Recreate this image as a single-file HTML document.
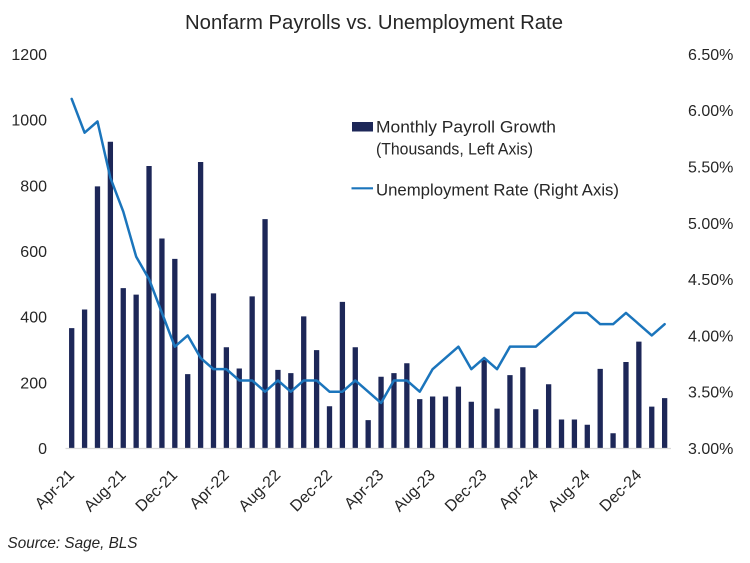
<!DOCTYPE html>
<html>
<head>
<meta charset="utf-8">
<style>
html,body{margin:0;padding:0;background:#fff}
svg{display:block}
text{font-family:"Liberation Sans",sans-serif;fill:#262626}
</style>
</head>
<body>
<svg width="750" height="563" viewBox="0 0 750 563" xmlns="http://www.w3.org/2000/svg">
<rect width="750" height="563" fill="#fff"/>
<text x="185" y="29" font-size="20" textLength="378" lengthAdjust="spacingAndGlyphs" fill="#1a1a1a">Nonfarm Payrolls vs. Unemployment Rate</text>
<g font-size="16" text-anchor="end">
<text x="47" y="454">0</text><text x="47" y="388.3">200</text><text x="47" y="322.7">400</text><text x="47" y="257">600</text><text x="47" y="191.4">800</text><text x="47" y="125.7">1000</text><text x="47" y="60">1200</text>
</g>
<g font-size="16">
<text x="688" y="454">3.00%</text><text x="688" y="397.7">3.50%</text><text x="688" y="341.4">4.00%</text><text x="688" y="285.1">4.50%</text><text x="688" y="228.8">5.00%</text><text x="688" y="172.5">5.50%</text><text x="688" y="116.2">6.00%</text><text x="688" y="60">6.50%</text>
</g>
<path fill="#1d2758" d="M69.05 448v-119.83h5.3v119.83zM81.94 448v-138.54h5.3v138.54zM94.83 448v-261.66h5.3v261.66zM107.72 448v-306.3h5.3v306.3zM120.61 448v-159.88h5.3v159.88zM133.5 448v-153.32h5.3v153.32zM146.39 448v-282.01h5.3v282.01zM159.28 448v-209.46h5.3v209.46zM172.17 448v-189.1h5.3v189.1zM185.06 448v-73.87h5.3v73.87zM197.95 448v-285.95h5.3v285.95zM210.84 448v-154.63h5.3v154.63zM223.73 448v-100.79h5.3v100.79zM236.62 448v-79.45h5.3v79.45zM249.51 448v-151.67h5.3v151.67zM262.4 448v-228.83h5.3v228.83zM275.29 448v-78.14h5.3v78.14zM288.18 448v-74.85h5.3v74.85zM301.07 448v-131.65h5.3v131.65zM313.96 448v-97.83h5.3v97.83zM326.85 448v-41.69h5.3v41.69zM339.74 448v-146.09h5.3v146.09zM352.63 448v-100.79h5.3v100.79zM365.52 448v-27.91h5.3v27.91zM378.41 448v-71.24h5.3v71.24zM391.3 448v-74.85h5.3v74.85zM404.19 448v-84.7h5.3v84.7zM417.08 448v-48.92h5.3v48.92zM429.97 448v-51.54h5.3v51.54zM442.86 448v-51.54h5.3v51.54zM455.75 448v-61.39h5.3v61.39zM468.64 448v-46.29h5.3v46.29zM481.53 448v-87.98h5.3v87.98zM494.42 448v-39.4h5.3v39.4zM507.31 448v-72.88h5.3v72.88zM520.2 448v-80.76h5.3v80.76zM533.09 448v-38.74h5.3v38.74zM545.98 448v-63.69h5.3v63.69zM558.87 448v-28.56h5.3v28.56zM571.76 448v-28.56h5.3v28.56zM584.65 448v-23.31h5.3v23.31zM597.54 448v-79.12h5.3v79.12zM610.43 448v-14.77h5.3v14.77zM623.32 448v-86.01h5.3v86.01zM636.21 448v-106.37h5.3v106.37zM649.1 448v-41.37h5.3v41.37zM661.99 448v-49.9h5.3v49.9z"/>
<line x1="65.5" y1="448.5" x2="671" y2="448.5" stroke="#d9d9d9" stroke-width="1.2"/>
<polyline fill="none" stroke="#1b75bc" stroke-width="2.5" stroke-linejoin="round" stroke-linecap="round" points="71.7,98.94 84.59,132.72 97.48,121.46 110.37,177.76 123.26,211.54 136.15,256.58 149.04,279.1 161.93,312.88 174.82,346.66 187.71,335.4 200.6,357.92 213.49,369.18 226.38,369.18 239.27,380.44 252.16,380.44 265.05,391.7 277.94,380.44 290.83,391.7 303.72,380.44 316.61,380.44 329.5,391.7 342.39,391.7 355.28,380.44 368.17,391.7 381.06,402.96 393.95,380.44 406.84,380.44 419.73,391.7 432.62,369.18 445.51,357.92 458.4,346.66 471.29,369.18 484.18,357.92 497.07,369.18 509.96,346.66 522.85,346.66 535.74,346.66 548.63,335.4 561.52,324.14 574.41,312.88 587.3,312.88 600.19,324.14 613.08,324.14 625.97,312.88 638.86,324.14 651.75,335.4 664.64,324.14"/>
<g font-size="16" text-anchor="end">
<text transform="translate(75.2,476) rotate(-45)">Apr-21</text>
<text transform="translate(126.8,476) rotate(-45)">Aug-21</text>
<text transform="translate(178.3,476) rotate(-45)">Dec-21</text>
<text transform="translate(229.9,476) rotate(-45)">Apr-22</text>
<text transform="translate(281.4,476) rotate(-45)">Aug-22</text>
<text transform="translate(333,476) rotate(-45)">Dec-22</text>
<text transform="translate(384.6,476) rotate(-45)">Apr-23</text>
<text transform="translate(436.1,476) rotate(-45)">Aug-23</text>
<text transform="translate(487.7,476) rotate(-45)">Dec-23</text>
<text transform="translate(539.2,476) rotate(-45)">Apr-24</text>
<text transform="translate(590.8,476) rotate(-45)">Aug-24</text>
<text transform="translate(642.4,476) rotate(-45)">Dec-24</text>
</g>
<rect x="352" y="122" width="21" height="9.5" fill="#1d2758"/>
<text x="376" y="132.7" font-size="16.5" textLength="180" lengthAdjust="spacingAndGlyphs">Monthly Payroll Growth</text>
<text x="376" y="154.7" font-size="16.5" textLength="157" lengthAdjust="spacingAndGlyphs">(Thousands, Left Axis)</text>
<line x1="351.5" y1="188.3" x2="373" y2="188.3" stroke="#1b75bc" stroke-width="2.2"/>
<text x="376" y="195.7" font-size="16.5" textLength="243" lengthAdjust="spacingAndGlyphs">Unemployment Rate (Right Axis)</text>
<text x="7.5" y="548" font-size="16" font-style="italic" fill="#404040" textLength="130" lengthAdjust="spacingAndGlyphs">Source: Sage, BLS</text>
</svg>
</body>
</html>
